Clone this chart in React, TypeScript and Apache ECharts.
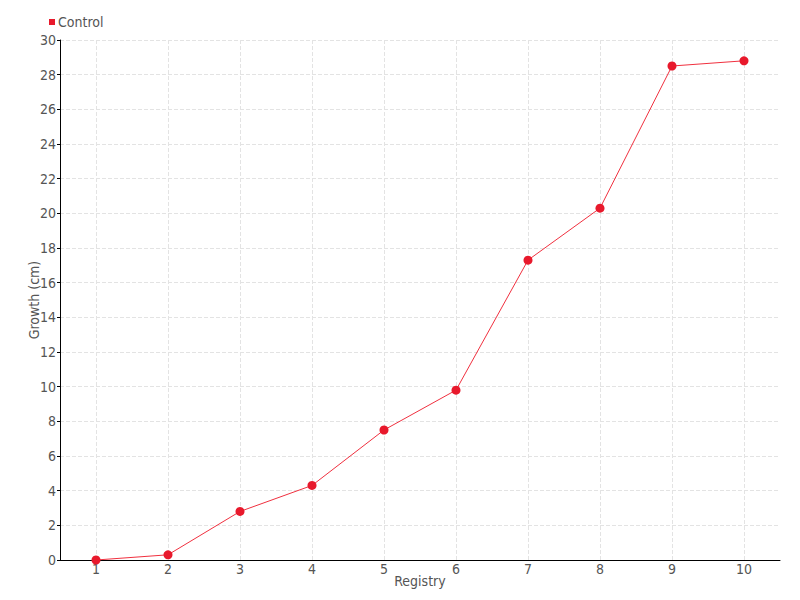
import React, { useEffect, useRef } from "react";
import * as echarts from "echarts";

const categories = ["1", "2", "3", "4", "5", "6", "7", "8", "9", "10"];
const controlValues = [0, 0.3, 2.8, 4.3, 7.5, 9.8, 17.3, 20.3, 28.5, 28.8];
const seriesName = "Control";

const FONT = "'DejaVu Sans Condensed', 'Liberation Sans Narrow', 'Roboto Condensed', sans-serif";
const TEXT_COLOR = "#555";

export default function App() {
  const ref = useRef<HTMLDivElement>(null);
  useEffect(() => {
    if (!ref.current) return;
    const chart = echarts.init(ref.current, null, { renderer: "svg" });
    chart.setOption({
      animation: false,
      textStyle: { fontFamily: FONT },
      legend: {
        left: 44,
        top: 10,
        icon: "rect",
        itemWidth: 6,
        itemHeight: 6,
        itemGap: 4,
        textStyle: { fontFamily: FONT, fontSize: 14, color: TEXT_COLOR, padding: [0, 0, 0, -2] },
        data: [seriesName],
      },
      grid: { left: 60, right: 20, top: 40, bottom: 40 },
      xAxis: {
        type: "category",
        data: categories,
        name: "Registry",
        nameLocation: "middle",
        nameGap: 14,
        nameMoveOverlap: false,
        nameTextStyle: { fontFamily: FONT, fontSize: 14, color: TEXT_COLOR },
        axisLine: { lineStyle: { color: "#000" } },
        axisTick: { alignWithLabel: true, length: 3, lineStyle: { color: "#000" } },
        axisLabel: { fontFamily: FONT, fontSize: 14, color: TEXT_COLOR, margin: 2 },
        splitLine: {
          show: true,
          alignWithLabel: true,
          lineStyle: { type: "dashed", color: "#e3e3e3" },
        },
      },
      yAxis: {
        type: "value",
        min: 0,
        max: 30,
        interval: 2,
        name: "Growth (cm)",
        nameLocation: "middle",
        nameGap: 19,
        nameMoveOverlap: false,
        nameTextStyle: { fontFamily: FONT, fontSize: 14, color: TEXT_COLOR },
        axisLine: { show: true, lineStyle: { color: "#000" } },
        axisTick: { show: true, length: 3, lineStyle: { color: "#000" } },
        axisLabel: { fontFamily: FONT, fontSize: 14, color: TEXT_COLOR, margin: 4 },
        splitLine: { show: true, lineStyle: { type: "dashed", color: "#e3e3e3" } },
      },
      series: [
        {
          name: seriesName,
          type: "line",
          data: controlValues,
          symbol: "circle",
          symbolSize: 9,
          itemStyle: { color: "#e8192c" },
          lineStyle: { color: "#f0303f", width: 1 },
        },
      ],
    });
    return () => chart.dispose();
  }, []);
  return <div ref={ref} style={{ width: 800, height: 600, position: "absolute", left: 0, top: 0 }} />;
}
